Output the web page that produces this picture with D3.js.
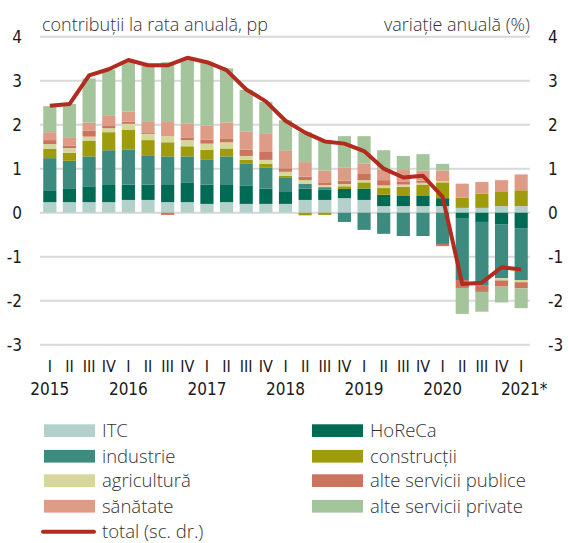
<!DOCTYPE html>
<html>
<head>
<meta charset="utf-8" />
<script src="https://d3js.org/d3.v7.min.js"></script>
<style>
  body { margin: 0; background: #fff; }
  .num text, text.num { font-family: "Liberation Sans Narrow", "DejaVu Sans Condensed", sans-serif; font-stretch: condensed; fill: #1a1a1a; }
  .light { font-family: "Open Sans", "Noto Sans", sans-serif; font-weight: 300; fill: #333; }
</style>
</head>
<body>
<svg width="569" height="543"></svg>
<script>
// quarters 2015 I .. 2021 I
const quarters = ["I", "II", "III", "IV", "I", "II", "III", "IV", "I", "II", "III", "IV",
  "I", "II", "III", "IV", "I", "II", "III", "IV", "I", "II", "III", "IV", "I"];
const years = ["2015", "2016", "2017", "2018", "2019", "2020", "2021*"];

// contributions, pp
const itc = [0.24, 0.24, 0.24, 0.24, 0.29, 0.29, 0.24, 0.24, 0.20, 0.24, 0.20, 0.20, 0.20,
  0.29, 0.29, 0.33, 0.29, 0.15, 0.15, 0.15, 0.15, 0.11, 0.11, 0.15, 0.15];
const horeca = [0.27, 0.30, 0.36, 0.39, 0.35, 0.35, 0.39, 0.45, 0.44, 0.39, 0.41, 0.35, 0.27,
  0.26, 0.24, 0.21, 0.26, 0.26, 0.23, 0.23, 0.18, -0.12, -0.21, -0.26, -0.35];
const industrie = [0.73, 0.64, 0.68, 0.79, 0.79, 0.65, 0.65, 0.59, 0.56, 0.65, 0.50, 0.47, 0.32,
  0.11, 0.05, -0.21, -0.39, -0.48, -0.53, -0.53, -0.71, -1.41, -1.45, -1.23, -1.18];
const constructii = [0.21, 0.18, 0.36, 0.41, 0.45, 0.36, 0.32, 0.23, 0.23, 0.18, 0.09, 0.09, 0.05,
  -0.06, -0.05, 0.06, 0.14, 0.15, 0.21, 0.26, 0.36, 0.23, 0.32, 0.32, 0.36];
const agricultura = [0.11, 0.11, 0.09, 0.09, 0.14, 0.14, 0.14, 0.14, 0.14, 0.14, 0.09, 0.09, 0.09,
  0.08, 0.05, 0.05, 0.05, 0.06, 0.05, 0.04, 0.03, 0, 0, -0.05, -0.05];
const publice = [0.09, 0.05, 0.14, 0.05, 0.05, 0.02, -0.05, 0.05, 0.09, 0.09, 0.14, 0.18, 0.08,
  0.08, 0.06, 0.08, 0.14, 0.12, 0.06, 0.05, -0.05, -0.18, -0.14, -0.14, -0.14];
const sanatate = [0.18, 0.18, 0.18, 0.23, 0.23, 0.27, 0.32, 0.32, 0.32, 0.36, 0.41, 0.41, 0.41,
  0.33, 0.27, 0.29, 0.24, 0.24, 0.27, 0.23, 0.24, 0.32, 0.27, 0.27, 0.36];
const privateServ = [0.59, 0.77, 1.00, 1.05, 1.14, 1.27, 1.36, 1.45, 1.45, 1.23, 0.95, 0.73, 0.68,
  0.68, 0.69, 0.72, 0.62, 0.44, 0.32, 0.37, 0.15, -0.59, -0.45, -0.36, -0.45];

// total, annual change (%)
const total = [2.43, 2.47, 3.12, 3.26, 3.47, 3.35, 3.35, 3.52, 3.42, 3.24, 2.80, 2.53, 2.09,
  1.82, 1.62, 1.57, 1.40, 1.00, 0.80, 0.84, 0.36, -1.62, -1.59, -1.24, -1.29];

const seriesNames = ["ITC", "HoReCa", "industrie", "construcții", "agricultură",
  "alte servicii publice", "sănătate", "alte servicii private"];
const seriesValues = [itc, horeca, industrie, constructii, agricultura, publice, sanatate, privateServ];
const colors = ["#b4d0cb", "#006b55", "#3d8a7e", "#9e9b0c", "#d6d79b", "#cc735d", "#de9c86", "#a4c49b"];

const svg = d3.select("svg");

const rows = quarters.map((q, i) => {
  const r = { idx: i };
  seriesNames.forEach((n, j) => (r[n] = seriesValues[j][i]));
  return r;
});
const stacked = d3.stack().keys(seriesNames).offset(d3.stackOffsetDiverging)(rows);

const x = d3.scaleBand().domain(d3.range(quarters.length))
  .range([40, 531]).paddingInner(0.33).paddingOuter(0.165);
const y = d3.scaleLinear().domain([-3, 4]).range([344.7, 36.7]);

// gridlines
svg.append("g").selectAll("line").data(y.ticks(7)).join("line")
  .attr("x1", 40).attr("x2", 530)
  .attr("y1", d => y(d)).attr("y2", d => y(d))
  .attr("stroke", "#d9d9d9").attr("stroke-width", 2);

// y axes (left and right), plain hyphen for minus
const fmt = d => String(d);
const yl = svg.append("g").attr("class", "num").attr("transform", "translate(22,0)")
  .call(d3.axisLeft(y).ticks(7).tickSize(0).tickPadding(0).tickFormat(fmt));
const yr = svg.append("g").attr("class", "num").attr("transform", "translate(548,0)")
  .call(d3.axisRight(y).ticks(7).tickSize(0).tickPadding(0).tickFormat(fmt));
[yl, yr].forEach(g => {
  g.select(".domain").remove();
  g.selectAll("text").attr("font-size", 17).attr("font-family", null);
});

// bars
svg.append("g").selectAll("g").data(stacked).join("g")
  .attr("fill", (d, i) => colors[i])
  .selectAll("rect").data(d => d).join("rect")
  .attr("x", d => x(d.data.idx))
  .attr("width", x.bandwidth())
  .attr("y", d => y(Math.max(d[0], d[1])))
  .attr("height", d => Math.abs(y(d[0]) - y(d[1])));

// total line
const line = d3.line()
  .x((d, i) => x(i) + x.bandwidth() / 2)
  .y(d => y(d));
svg.append("path").datum(total)
  .attr("d", line)
  .attr("fill", "none")
  .attr("stroke", "#b22b1f")
  .attr("stroke-width", 4)
  .attr("stroke-linejoin", "round");

// x axis: quarters
const xa = svg.append("g").attr("class", "num").attr("transform", "translate(0,361)")
  .call(d3.axisBottom(x).tickSize(0).tickPadding(0).tickFormat(i => quarters[i]));
xa.select(".domain").remove();
xa.selectAll("text").attr("font-size", 16).attr("font-family", null);

// years under each first quarter
const firstQ = d3.range(quarters.length).filter(i => quarters[i] === "I");
svg.append("g").selectAll("text").data(firstQ).join("text")
  .attr("class", "num")
  .attr("x", (d, k) => x(d) + x.bandwidth() / 2 + (years[k].endsWith("*") ? 3 : 0))
  .attr("y", 395)
  .attr("text-anchor", "middle")
  .attr("font-size", 17)
  .text((d, k) => years[k]);

// headers
svg.append("text").attr("class", "light").attr("x", 42).attr("y", 31)
  .attr("font-size", 18).text("contribuții la rata anuală, pp");
svg.append("text").attr("class", "light").attr("x", 530).attr("y", 31)
  .attr("text-anchor", "end").attr("font-size", 18).text("variație anuală (%)");

// legend
const rowY = [430.7, 456.3, 480.7, 506.3, 531.7];
const leg = svg.append("g");
seriesNames.forEach((n, i) => {
  const col = i % 2, row = Math.floor(i / 2);
  const lx = col === 0 ? 44 : 312;
  leg.append("rect").attr("x", lx).attr("y", rowY[row] - 6.4)
    .attr("width", 51).attr("height", 12.7).attr("fill", colors[i]);
  leg.append("text").attr("class", "light").attr("x", lx + 58).attr("y", rowY[row])
    .attr("dy", "0.35em").attr("font-size", 18.5).text(n);
});
leg.append("line").attr("x1", 43).attr("x2", 94).attr("y1", rowY[4]).attr("y2", rowY[4])
  .attr("stroke", "#b22b1f").attr("stroke-width", 4).attr("stroke-linecap", "round");
leg.append("text").attr("class", "light").attr("x", 102).attr("y", rowY[4])
  .attr("dy", "0.35em").attr("font-size", 18.5).text("total (sc. dr.)");
</script>
</body>
</html>
